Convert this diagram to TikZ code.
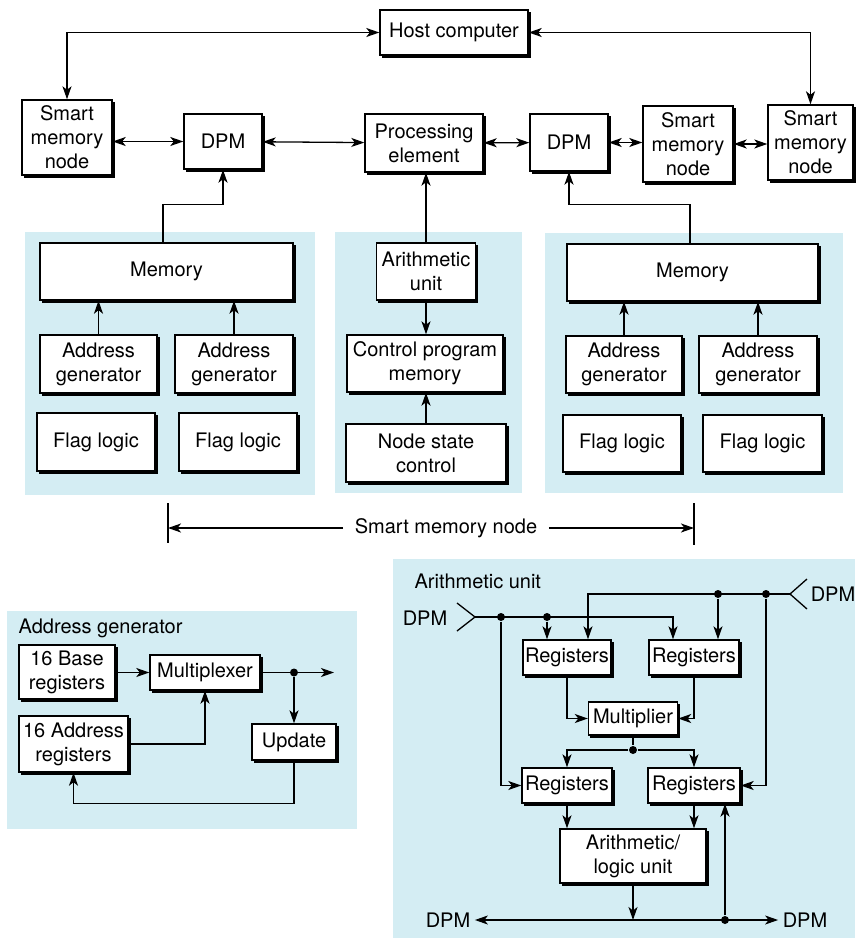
\documentclass[tikz,border=0pt]{standalone}
\usepackage{fontspec}
\setmainfont{TeX Gyre Heros}
\usetikzlibrary{arrows.meta, positioning, calc}
\definecolor{panelblue}{RGB}{212,237,243}
\tikzset{
  blk/.style={draw, fill=white, line width=1.4pt, align=center, inner sep=0pt,
    preaction={fill=black, draw=black, transform canvas={shift={(2.2pt,-2.2pt)}}}},
  wh/.style 2 args={minimum width=#1pt, minimum height=#2pt},
  arr/.style={-{Stealth[length=13pt,width=9pt,inset=3.5pt]}},
  darr/.style={{Stealth[length=13pt,width=9pt,inset=3.5pt]}-{Stealth[length=13pt,width=9pt,inset=3.5pt]}},
  dot/.style={circle, fill=black, inner sep=0pt, minimum size=8pt},
  lbl/.style={inner sep=4pt}
}

\begin{document}
\begin{tikzpicture}[x=1pt, y=-1pt, line width=1.3pt, font=\fontsize{20}{24}\selectfont]
\useasboundingbox (0,0) rectangle (855,938);
% Panels
\fill[panelblue] (25,232) rectangle (315,495);
\fill[panelblue] (335,232) rectangle (522,493);
\fill[panelblue] (545,233) rectangle (843,493);
\fill[panelblue] (7,611) rectangle (357,829);
\fill[panelblue] (393,559) rectangle (855,938);
% Top row
\node[blk, wh={148}{45}] (host) at (454,32.5) {Host computer};
\node[blk, wh={90}{75}] (smL) at (67,137.5) {Smart\\memory\\node};
\node[blk, wh={78}{55}] (dpmL) at (223,141.5) {DPM};
\node[blk, wh={118}{58}] (pe) at (424,143) {Processing\\element};
\node[blk, wh={78}{57}] (dpmR) at (569,142.5) {DPM};
\node[blk, wh={90}{76}] (smM) at (688,144) {Smart\\memory\\node};
\node[blk, wh={85}{75}] (smR) at (810.5,142.5) {Smart\\memory\\node};
\draw[darr] (smL.north) |- (host.west);
\draw[darr] (smR.north) |- (host.east);
\draw[darr] (smL.east |- dpmL) -- (dpmL);
\draw[darr] (dpmL) -- (pe);
\draw[darr] (pe) -- (dpmR);
\draw[darr] (dpmR) -- (dpmR -| smM.west);
\draw[darr] (smM) -- (smM -| smR.west);
% Left memory panel
\node[blk, wh={253}{57}] (memL) at (166.5,271.5) {Memory};
\node[blk, wh={117}{58}] (agL1) at (98.5,364) {Address\\generator};
\node[blk, wh={118}{58}] (agL2) at (234,364) {Address\\generator};
\node[blk, wh={118}{58}] (flL1) at (96,442) {Flag logic};
\node[blk, wh={118}{58}] (flL2) at (238,442) {Flag logic};
\draw[arr] (agL1.north) -- (agL1.north |- memL.south);
\draw[arr] (agL2.north) -- (agL2.north |- memL.south);
\draw[arr] ([xshift=-3.5pt]memL.north) -- ++(0,-38) -| (dpmL.south);
% Middle panel
\node[blk, wh={99}{57}] (au) at (426,271.5) {Arithmetic\\unit};
\node[blk, wh={156}{57}] (cpm) at (425,363.5) {Control program\\memory};
\node[blk, wh={160}{58}] (nsc) at (426,453) {Node state\\control};
\draw[arr] (au.north) -- (au.north |- pe.south);
\draw[arr] (au.south) -- (au.south |- cpm.north);
\draw[arr] (nsc.north) -- (nsc.north |- cpm.south);
% Right memory panel
\node[blk, wh={251}{57}] (memR) at (692.5,272.5) {Memory};
\node[blk, wh={116}{57}] (agR1) at (624,364.5) {Address\\generator};
\node[blk, wh={118}{57}] (agR2) at (758,364.5) {Address\\generator};
\node[blk, wh={118}{57}] (flR1) at (622,443.5) {Flag logic};
\node[blk, wh={119}{57}] (flR2) at (762.5,443.5) {Flag logic};
\draw[arr] (agR1.north) -- (agR1.north |- memR.south);
\draw[arr] (agR2.north) -- (agR2.north |- memR.south);
\draw[arr] ([xshift=-2.5pt]memR.north) -- ++(0,-39) -| (dpmR.south);
% Smart memory node span
\node[inner sep=11pt] (span) at (446,528) {Smart memory node};
\coordinate (spanL) at (168,528);
\coordinate (spanR) at (694,528);
\draw (168,503) -- (168,543);
\draw (694,503) -- (694,545);
\draw[arr] (span.west) -- (spanL);
\draw[arr] (span.east) -- (spanR);
% Address generator
\node[anchor=west, inner sep=0pt] (agtitle) at (18,628) {Address generator};
\node[blk, wh={96}{54}] (base) at (67,672) {16 Base\\registers};
\node[blk, wh={110}{35}] (mux) at (205,672.5) {Multiplexer};
\node[blk, wh={109}{56}] (areg) at (73.5,744) {16 Address\\registers};
\node[blk, wh={84}{36}] (upd) at (294,742) {Update};
\node[dot] (agdot) at (294,672.5) {};
\coordinate (agout) at (334,672.5);
\draw[arr] (base.east |- mux) -- (mux);
\draw[arr] (mux.east) -- (agout);
\draw[arr] (agdot) -- (upd.north);
\draw[arr] (areg.east) -| (mux.south);
\draw[arr] (upd.south) -- ++(0,43) -| (areg.south);
% Arithmetic unit
\node[anchor=west, inner sep=0pt] (autitle) at (414,581) {Arithmetic unit};
\node[inner sep=0pt] (dpmin) at (425,618) {DPM};
\node[inner sep=0pt] (dpmin2) at (833,594) {DPM};
\draw (457,603) -- (475,617) -- (457,631);
\draw (807,579) -- (790,594) -- (807,609);
\coordinate (inL) at (475,617);
\coordinate (inR) at (790,594);
\node[blk, wh={88}{35}] (rA) at (567,657.5) {Registers};
\node[blk, wh={90}{35}] (rB) at (694,657.5) {Registers};
\node[blk, wh={89}{33}] (mul) at (633,718.5) {Multiplier};
\node[blk, wh={90}{35}] (rC) at (567,785.5) {Registers};
\node[blk, wh={92}{35}] (rD) at (694,785.5) {Registers};
\node[blk, wh={146}{54}] (alu) at (633,856) {Arithmetic/\\logic unit};
\node[dot] (d1) at (501,617) {};
\node[dot] (d2) at (547,617) {};
\node[dot] (d3) at (718,594) {};
\node[dot] (d4) at (766,594) {};
\node[dot] (d5) at (633,750) {};
\node[dot] (d6) at (725,920) {};
\draw[arr] (inL) -| ([xshift=-21pt]rB.north);
\draw[arr] (d2) -- (d2 |- rA.north);
\draw[arr] (d1) |- (rC.west);
\draw[arr] (inR) -| ([xshift=21pt]rA.north);
\draw[arr] (d3) -- (d3 |- rB.north);
\draw[arr] (d4) |- (rD.east);
\draw[arr] (rA.south) |- (mul.west);
\draw[arr] (rB.south) |- (mul.east);
\draw (mul.south) -- (d5);
\draw[arr] (d5) -| (rC.north);
\draw[arr] (d5) -| (rD.north);
\draw[arr] (rC.south) -- (rC.south |- alu.north);
\draw[arr] (rD.south) -- (rD.south |- alu.north);
% Output bus
\node[lbl] (dpmoutL) at (448,920) {DPM};
\node[lbl] (dpmoutR) at (805,920) {DPM};
\draw[darr] (dpmoutL) -- (dpmoutR);
\draw[arr] (alu.south) -- (alu.south |- dpmoutL);
\draw[arr] (d6) -- (d6 |- rD.south);
\end{tikzpicture}
\end{document}
